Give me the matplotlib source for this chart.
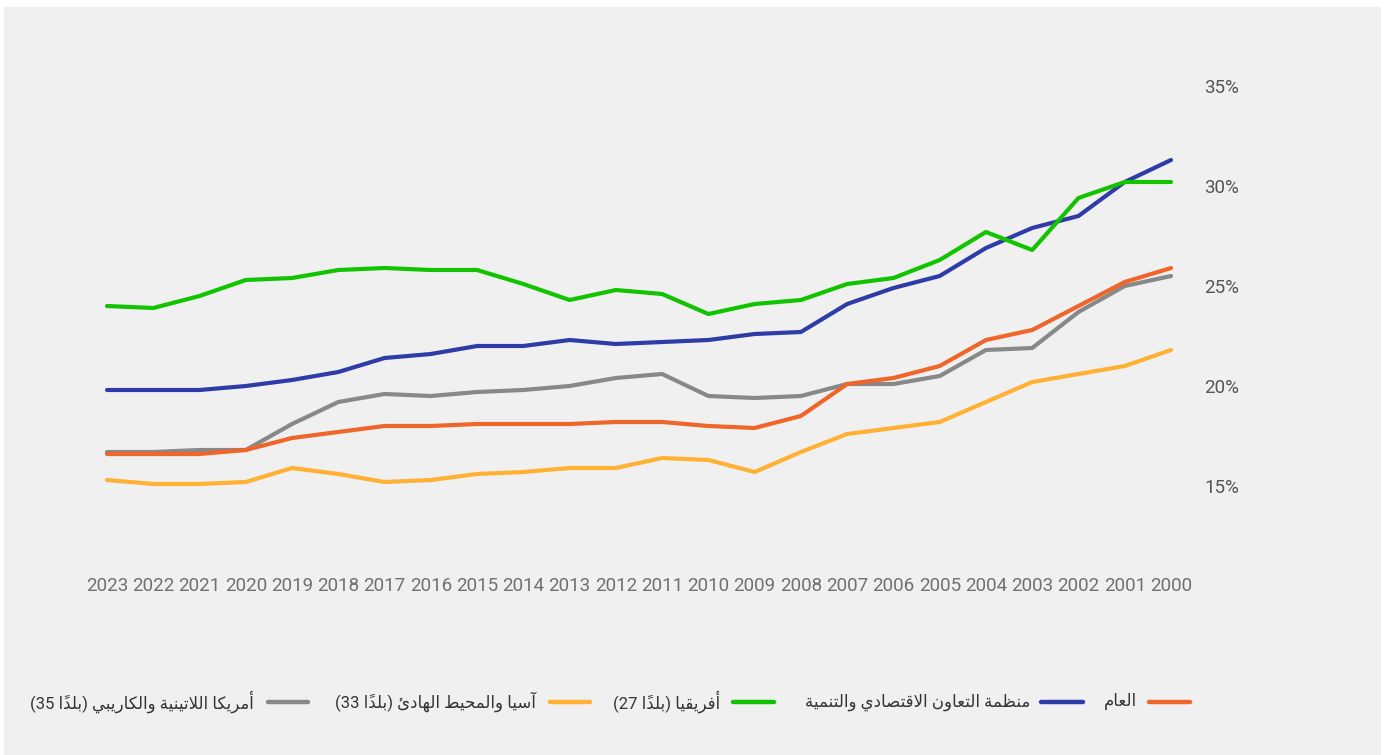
import matplotlib
matplotlib.use("Agg")
import matplotlib.pyplot as plt
from matplotlib.lines import Line2D
from matplotlib.patches import Rectangle

# data (percent)
years = list(range(2000, 2024))[::-1]  # 2023 ... 2000

general = [16.6, 16.6, 16.6, 16.8, 17.4, 17.7, 18.0, 18.0, 18.1, 18.1, 18.1, 18.2,
           18.2, 18.0, 17.9, 18.5, 20.1, 20.4, 21.0, 22.3, 22.8, 24.0, 25.2, 25.9]
oecd = [19.8, 19.8, 19.8, 20.0, 20.3, 20.7, 21.4, 21.6, 22.0, 22.0, 22.3, 22.1,
        22.2, 22.3, 22.6, 22.7, 24.1, 24.9, 25.5, 26.9, 27.9, 28.5, 30.2, 31.3]
africa = [24.0, 23.9, 24.5, 25.3, 25.4, 25.8, 25.9, 25.8, 25.8, 25.1, 24.3, 24.8,
          24.6, 23.6, 24.1, 24.3, 25.1, 25.4, 26.3, 27.7, 26.8, 29.4, 30.2, 30.2]
asia = [15.3, 15.1, 15.1, 15.2, 15.9, 15.6, 15.2, 15.3, 15.6, 15.7, 15.9, 15.9,
        16.4, 16.3, 15.7, 16.7, 17.6, 17.9, 18.2, 19.2, 20.2, 20.6, 21.0, 21.8]
latam = [16.7, 16.7, 16.8, 16.8, 18.1, 19.2, 19.6, 19.5, 19.7, 19.8, 20.0, 20.4,
         20.6, 19.5, 19.4, 19.5, 20.1, 20.1, 20.5, 21.8, 21.9, 23.7, 25.0, 25.5]

names = {
    "general": "العام",
    "oecd": "منظمة التعاون الاقتصادي والتنمية",
    "africa": "أفريقيا",
    "asia": "آسيا والمحيط الهادئ",
    "latam": "أمريكا اللاتينية والكاريبي",
}
counts = {"africa": "27", "asia": "33", "latam": "35"}
countries_word = "بلدًا"

colors = {
    "general": "#ef652a",
    "oecd": "#2f3ca8",
    "africa": "#12c400",
    "asia": "#ffb133",
    "latam": "#888888",
}
yticks = [15, 20, 25, 30, 35]

# --- small Arabic shaper (matplotlib has no shaping / bidi) ---
FORMS = {  # isolated, final, initial, medial
    "\u0622": ("\uFE81", "\uFE82", None, None),
    "\u0623": ("\uFE83", "\uFE84", None, None),
    "\u0626": ("\uFE89", "\uFE8A", "\uFE8B", "\uFE8C"),
    "\u0627": ("\uFE8D", "\uFE8E", None, None),
    "\u0628": ("\uFE8F", "\uFE90", "\uFE91", "\uFE92"),
    "\u0629": ("\uFE93", "\uFE94", None, None),
    "\u062A": ("\uFE95", "\uFE96", "\uFE97", "\uFE98"),
    "\u062D": ("\uFEA1", "\uFEA2", "\uFEA3", "\uFEA4"),
    "\u062F": ("\uFEA9", "\uFEAA", None, None),
    "\u0631": ("\uFEAD", "\uFEAE", None, None),
    "\u0633": ("\uFEB1", "\uFEB2", "\uFEB3", "\uFEB4"),
    "\u0635": ("\uFEB9", "\uFEBA", "\uFEBB", "\uFEBC"),
    "\u0637": ("\uFEC1", "\uFEC2", "\uFEC3", "\uFEC4"),
    "\u0638": ("\uFEC5", "\uFEC6", "\uFEC7", "\uFEC8"),
    "\u0639": ("\uFEC9", "\uFECA", "\uFECB", "\uFECC"),
    "\u0641": ("\uFED1", "\uFED2", "\uFED3", "\uFED4"),
    "\u0642": ("\uFED5", "\uFED6", "\uFED7", "\uFED8"),
    "\u0643": ("\uFED9", "\uFEDA", "\uFEDB", "\uFEDC"),
    "\u0644": ("\uFEDD", "\uFEDE", "\uFEDF", "\uFEE0"),
    "\u0645": ("\uFEE1", "\uFEE2", "\uFEE3", "\uFEE4"),
    "\u0646": ("\uFEE5", "\uFEE6", "\uFEE7", "\uFEE8"),
    "\u0647": ("\uFEE9", "\uFEEA", "\uFEEB", "\uFEEC"),
    "\u0648": ("\uFEED", "\uFEEE", None, None),
    "\u064A": ("\uFEF1", "\uFEF2", "\uFEF3", "\uFEF4"),
}
LAM_ALEF = {"\u0627": ("\uFEFB", "\uFEFC"), "\u0623": ("\uFEF7", "\uFEF8"),
            "\u0622": ("\uFEF5", "\uFEF6")}
MARKS = {"\u064B"}


def rtl(text):
    chars = list(text)
    letters = [(i, c) for i, c in enumerate(chars) if c not in MARKS]
    clusters = []  # (glyph, marks)
    k = 0
    while k < len(letters):
        i, c = letters[k]
        prev = letters[k - 1][1] if k > 0 else None
        nxt = letters[k + 1][1] if k + 1 < len(letters) else None
        joins_prev = prev in FORMS and FORMS[prev][2] is not None and c in FORMS
        marks = []
        j = i + 1
        while j < len(chars) and chars[j] in MARKS:
            marks.append(chars[j])
            j += 1
        if c == "\u0644" and nxt in LAM_ALEF:
            g = LAM_ALEF[nxt][1 if joins_prev else 0]
            clusters.append((g, marks))
            k += 2
            continue
        if c in FORMS:
            f = FORMS[c]
            joins_next = f[2] is not None and nxt in FORMS
            if joins_prev and joins_next:
                g = f[3]
            elif joins_prev:
                g = f[1]
            elif joins_next:
                g = f[2]
            else:
                g = f[0]
        else:
            g = c
        clusters.append((g, marks))
        k += 1
    # visual order: reverse clusters, mark placed just before its base glyph
    return "".join("".join(m) + g for g, m in clusters[::-1])


def legend_label(key):
    if key in counts:
        return "(" + counts[key] + " " + rtl(countries_word) + ") " + rtl(names[key])
    return rtl(names[key])


W, H = 1387, 755
fig = plt.figure(figsize=(W / 100, H / 100), dpi=100, facecolor="white")
fig.patches.append(Rectangle((4 / W, 0), 1377 / W, 748 / H, transform=fig.transFigure,
                             facecolor="#f0f0f0", edgecolor="none", zorder=-10))

ax = fig.add_axes([107 / W, (H - 570) / H, 1064 / W, 484 / H])
ax.set_facecolor("none")

for key, vals in [("latam", latam), ("asia", asia), ("oecd", oecd),
                  ("africa", africa), ("general", general)]:
    ax.plot(years, vals, color=colors[key], lw=3, clip_on=False,
            solid_capstyle="round", solid_joinstyle="round")

ax.set_xlim(2023, 2000)
ax.set_ylim(10.8, 35)
ax.set_xticks(years)
ax.set_xticklabels([str(y) for y in years], fontsize=13.5, color="#707070",
                   family=["Roboto", "DejaVu Sans"])
ax.yaxis.tick_right()
ax.set_yticks(yticks)
ax.set_yticklabels([f"{v}%" for v in yticks], fontsize=13.5, color="#555555",
                   family=["Roboto", "DejaVu Sans"], ha="left")
ax.tick_params(axis="x", length=0, pad=5)
ax.tick_params(axis="y", length=0, pad=24)
for s in ax.spines.values():
    s.set_visible(False)

# legend, laid out right to left as in the reference
legend_items = [  # key, line x0, line x1, text right edge (pixels)
    ("general", 1149, 1190, 1137),
    ("oecd", 1041, 1083, 1030),
    ("africa", 733, 774, 720),
    ("asia", 550, 590, 536),
    ("latam", 268, 308, 254),
]
ly = (H - 702) / H
for key, x0, x1, xt in legend_items:
    fig.add_artist(Line2D([x0 / W, x1 / W], [ly, ly], transform=fig.transFigure,
                          color=colors[key], lw=3.2, solid_capstyle="round"))
    fig.text(xt / W, ly, legend_label(key), ha="right", va="center", fontsize=12,
             color="#333333", family=["Roboto", "DejaVu Sans"])

fig.savefig("out.png", dpi=100, facecolor="white")
